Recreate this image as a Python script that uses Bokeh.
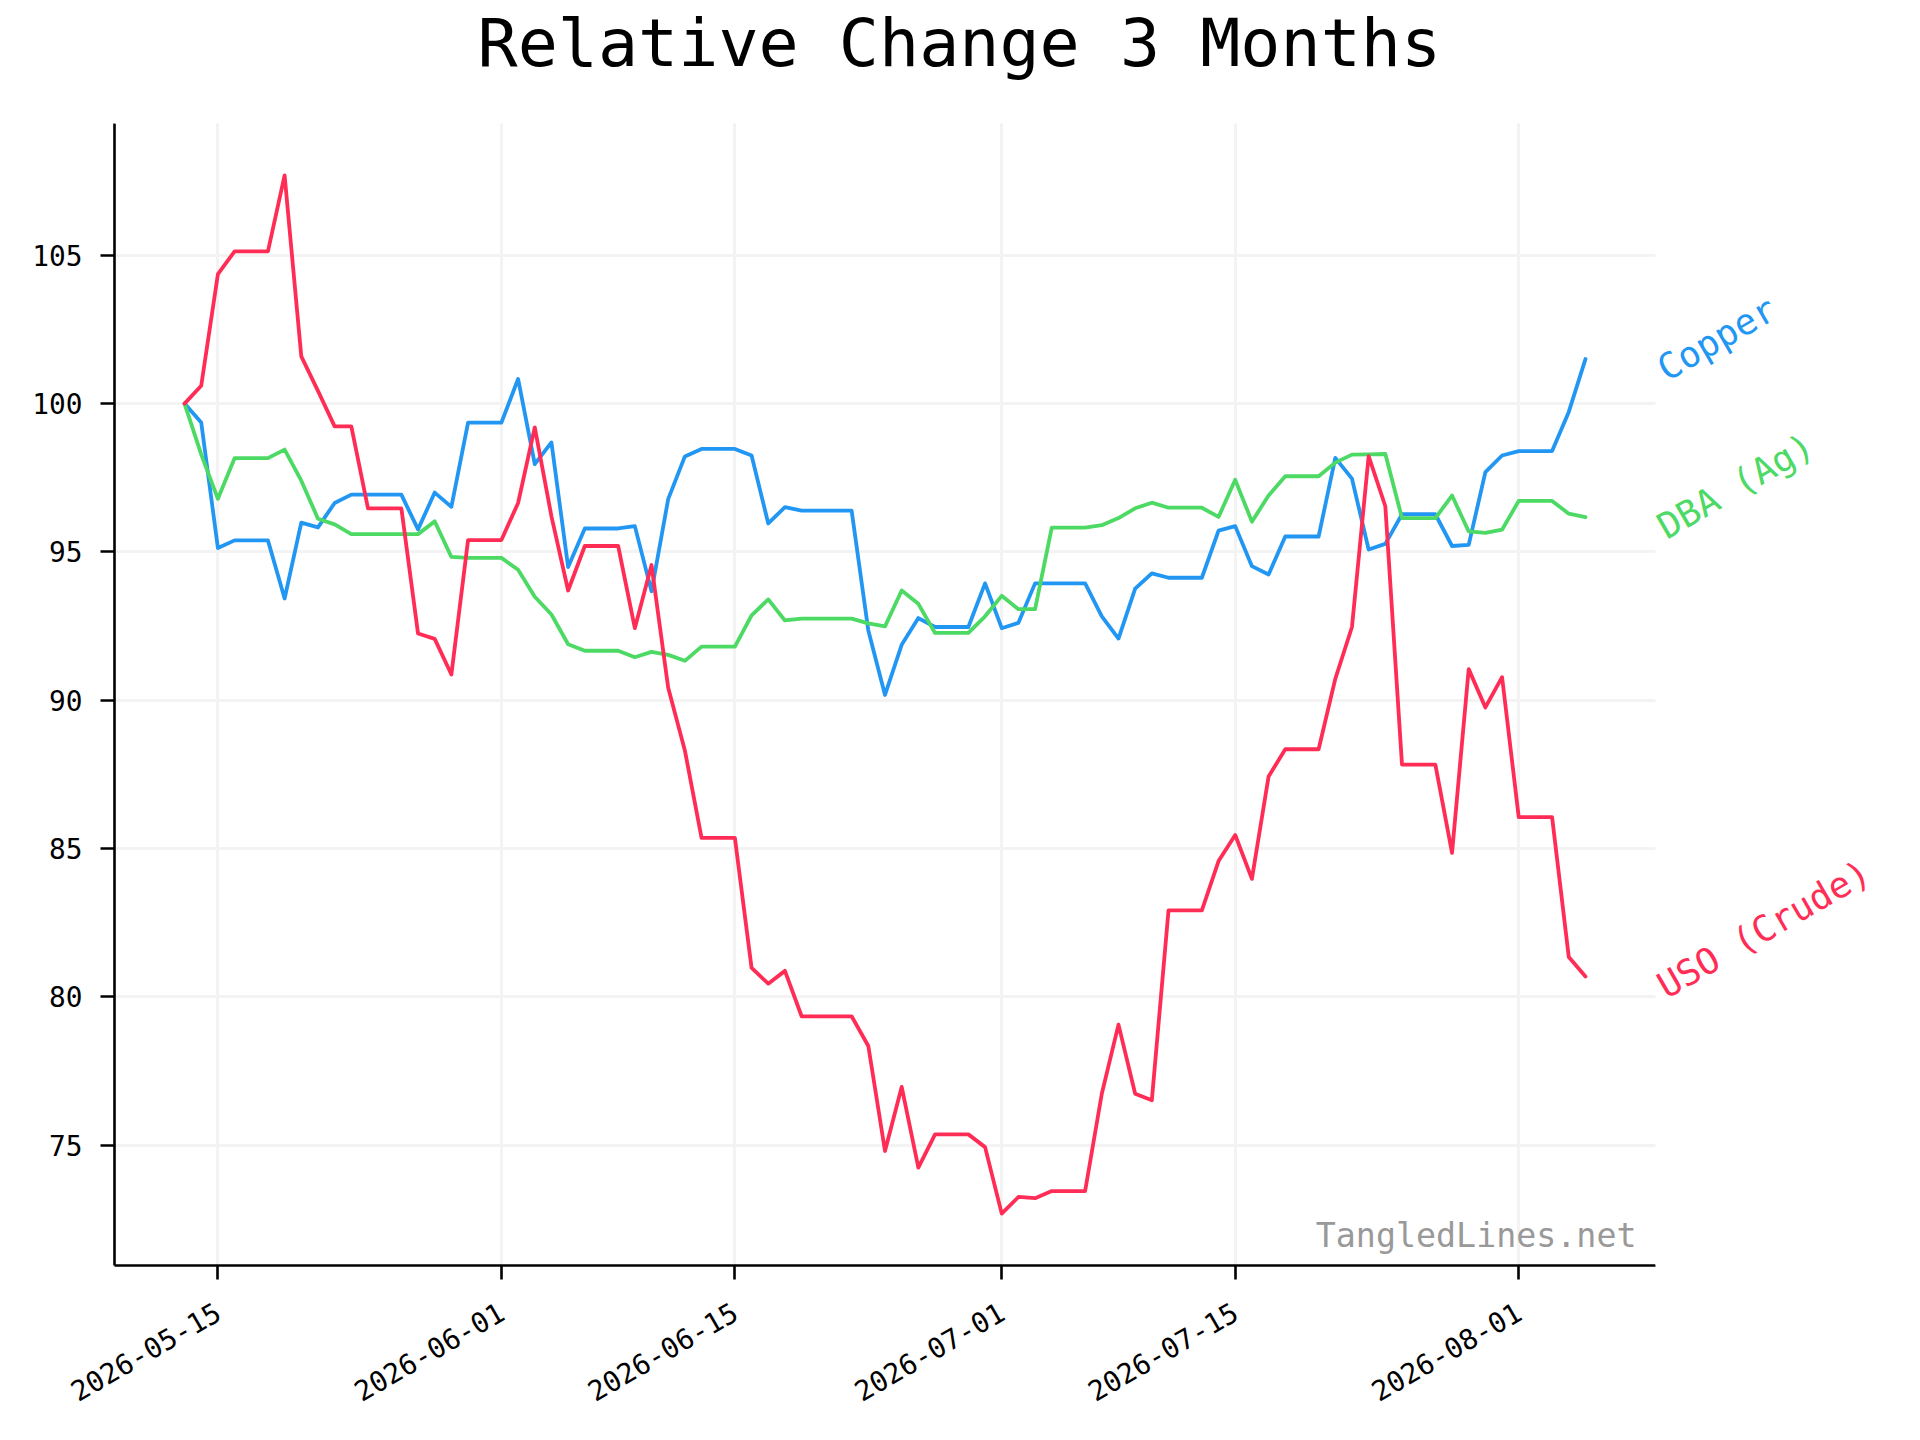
import math
import numpy as np
import pandas as pd
from bokeh.plotting import figure
from bokeh.models import (ColumnDataSource, Range1d, FixedTicker, DatetimeTickFormatter,
                          Label, BoxAnnotation)
from bokeh.embed import file_html
from bokeh.resources import INLINE

# ---------------- data ----------------
start_date = "2026-05-13"
end_date = "2026-08-05"
dates = pd.date_range(start_date, end_date, freq="D")

copper = [100.0, 99.36, 95.13, 95.39, 95.39, 95.39, 93.43, 95.99, 95.83, 96.65,
          96.93, 96.93, 96.93, 96.93, 95.76, 97.0, 96.52, 99.36, 99.36, 99.36,
          100.83, 97.96, 98.69, 94.49, 95.79, 95.79, 95.79, 95.87, 93.67, 96.78,
          98.22, 98.47, 98.47, 98.47, 98.25, 95.96, 96.51, 96.39, 96.39, 96.39,
          96.39, 92.35, 90.18, 91.87, 92.77, 92.47, 92.47, 92.47, 93.94, 92.43,
          92.61, 93.94, 93.94, 93.94, 93.94, 92.83, 92.08, 93.76, 94.28, 94.13,
          94.13, 94.13, 95.72, 95.87, 94.52, 94.24, 95.52, 95.52, 95.52, 98.17,
          97.47, 95.08, 95.27, 96.27, 96.27, 96.27, 95.20, 95.24, 97.69, 98.25,
          98.40, 98.40, 98.40, 99.72, 101.5]

dba = [100.0, 98.29, 96.79, 98.16, 98.16, 98.16, 98.45, 97.4, 96.12, 95.93,
       95.6, 95.6, 95.6, 95.6, 95.6, 96.03, 94.83, 94.8, 94.8, 94.8,
       94.4, 93.49, 92.89, 91.89, 91.67, 91.67, 91.67, 91.45, 91.63, 91.53,
       91.33, 91.81, 91.81, 91.81, 92.86, 93.40, 92.69, 92.75, 92.75, 92.75,
       92.75, 92.59, 92.49, 93.70, 93.25, 92.27, 92.27, 92.27, 92.83, 93.52,
       93.07, 93.07, 95.82, 95.82, 95.82, 95.90, 96.14, 96.47, 96.66, 96.49,
       96.49, 96.49, 96.18, 97.43, 96.02, 96.90, 97.55, 97.55, 97.55, 98.01,
       98.28, 98.29, 98.30, 96.14, 96.14, 96.14, 96.90, 95.69, 95.64, 95.75,
       96.72, 96.72, 96.72, 96.29, 96.17]

uso = [100.0, 100.6, 104.36, 105.13, 105.13, 105.13, 107.69, 101.59, 100.43, 99.23,
       99.23, 96.47, 96.47, 96.47, 92.25, 92.07, 90.87, 95.4, 95.4, 95.4,
       96.65, 99.2, 96.2, 93.7, 95.2, 95.2, 95.2, 92.43, 94.56, 90.42,
       88.31, 85.36, 85.36, 85.36, 80.98, 80.45, 80.88, 79.35, 79.35, 79.35,
       79.35, 78.35, 74.81, 76.97, 74.25, 75.37, 75.37, 75.37, 74.94, 72.70,
       73.26, 73.22, 73.46, 73.46, 73.46, 76.74, 79.07, 76.74, 76.52, 82.92,
       82.92, 82.92, 84.58, 85.46, 83.98, 87.43, 88.35, 88.35, 88.35, 90.72,
       92.47, 98.23, 96.54, 87.83, 87.83, 87.83, 84.86, 91.05, 89.76, 90.78,
       86.06, 86.06, 86.06, 81.35, 80.69]

series_keys = ["copper", "dba", "uso"]
series_names = ["Copper", "DBA (Ag)", "USO (Crude)"]
series_values = [copper, dba, uso]
series_colors = ["#2196F3", "#4CD964", "#FF2D55"]

x_tick_dates = ["2026-05-15", "2026-06-01", "2026-06-15",
                "2026-07-01", "2026-07-15", "2026-08-01"]
y_ticks = [75, 80, 85, 90, 95, 100, 105]

title_text = "Relative Change 3 Months"
watermark_text = "TangledLines.net"

# ---------------- layout / styling ----------------
FONT = "DejaVu Sans Mono"
W, H = 1904, 1424
LEFT = 114                   # frame / y-axis left (px)
DATA_RIGHT = 1655            # right end of the data area (px)
DATA_TOP = 123               # top of the data area (px)
BOTTOM = 1265                # x-axis position (px)
TITLE_LEFT, TITLE_Y = 477, 42

x_ms = dates.values.astype("datetime64[ms]").astype(np.int64).astype(float)
xspan = x_ms[-1] - x_ms[0]
x_start = x_ms[0] - 0.05 * xspan
x_end = x_ms[-1] + 0.05 * xspan
all_vals = np.concatenate([np.asarray(v, dtype=float) for v in series_values])
ylo, yhi = all_vals.min(), all_vals.max()
ypad = 0.05 * (yhi - ylo)
y_start, y_end = ylo - ypad, yhi + ypad

# the frame covers the whole canvas to the right and top, so that the
# end labels and the title (drawn as labels) are not clipped
frame_w = W - LEFT
frame_h = BOTTOM
x_range_end = x_start + (x_end - x_start) * frame_w / (DATA_RIGHT - LEFT)
y_range_end = y_start + (y_end - y_start) * frame_h / (BOTTOM - DATA_TOP)

src = ColumnDataSource(dict(date=dates, copper=copper, dba=dba, uso=uso))

p = figure(width=W, height=H, x_axis_type="datetime",
           x_range=Range1d(x_start, x_range_end), y_range=Range1d(y_start, y_range_end),
           output_backend="svg", toolbar_location=None,
           min_border_left=LEFT, min_border_right=0,
           min_border_top=0, min_border_bottom=H - BOTTOM)
p.background_fill_color = "white"
p.border_fill_color = "white"
p.outline_line_color = None
p.title.text = ""
p.title.standoff = 0
p.title.visible = False

# axes
tick_ms = [float(pd.Timestamp(d).value // 10**6) for d in x_tick_dates]
p.xaxis.ticker = FixedTicker(ticks=tick_ms)
fmt = "%Y-%m-%d"
p.xaxis.formatter = DatetimeTickFormatter(milliseconds=fmt, seconds=fmt, minsec=fmt,
                                          minutes=fmt, hourmin=fmt, hours=fmt,
                                          days=fmt, months=fmt, years=fmt)
p.xaxis.major_label_orientation = math.pi / 6
p.xaxis.bounds = (x_start, x_end)
p.yaxis.ticker = FixedTicker(ticks=y_ticks)
p.yaxis.bounds = (y_start, y_end)

for ax in (p.xaxis[0], p.yaxis[0]):
    ax.axis_line_color = "black"
    ax.axis_line_width = 2.6
    ax.major_tick_line_color = "black"
    ax.major_tick_line_width = 2.6
    ax.major_tick_out = 14
    ax.major_tick_in = 0
    ax.minor_tick_out = 0
    ax.minor_tick_in = 0
    ax.major_label_text_font = FONT
    ax.major_label_text_font_size = "27.8px"
    ax.major_label_text_color = "black"
p.yaxis.major_label_standoff = 18
p.xaxis.major_label_standoff = 30

p.xgrid.ticker = FixedTicker(ticks=tick_ms)
p.ygrid.ticker = FixedTicker(ticks=y_ticks)
for g in (p.xgrid[0], p.ygrid[0]):
    g.grid_line_color = "#f3f3f3"
    g.grid_line_width = 3

# lines
for key, color in zip(series_keys, series_colors):
    p.line(x="date", y=key, source=src, line_color=color, line_width=3.8,
           line_join="round", line_cap="round")

# blank out the grid outside the data area (label / title margins)
p.add_layout(BoxAnnotation(left=x_end, fill_color="white", fill_alpha=1.0,
                           line_color=None))
p.add_layout(BoxAnnotation(bottom=y_end, fill_color="white", fill_alpha=1.0,
                           line_color=None))

# title
p.add_layout(Label(x=x_start, y=y_end, x_offset=TITLE_LEFT - LEFT,
                   y_offset=DATA_TOP - TITLE_Y, text=title_text,
                   text_color="black", text_font=FONT, text_font_size="66.7px",
                   text_align="left", text_baseline="middle"))

# end labels
for name, vals, color in zip(series_names, series_values, series_colors):
    p.add_layout(Label(x=x_ms[-1], y=vals[-1], x_offset=75, y_offset=-12,
                       text=name, angle=30, angle_units="deg",
                       text_color=color, text_font=FONT, text_font_size="36px",
                       text_align="left", text_baseline="alphabetic"))

# watermark
p.add_layout(Label(x=x_end, y=y_start, x_offset=-19, y_offset=30,
                   text=watermark_text, text_color="#999999", text_font=FONT,
                   text_font_size="33.3px", text_align="right",
                   text_baseline="alphabetic"))

open("out.html", "w").write(file_html(p, INLINE))
